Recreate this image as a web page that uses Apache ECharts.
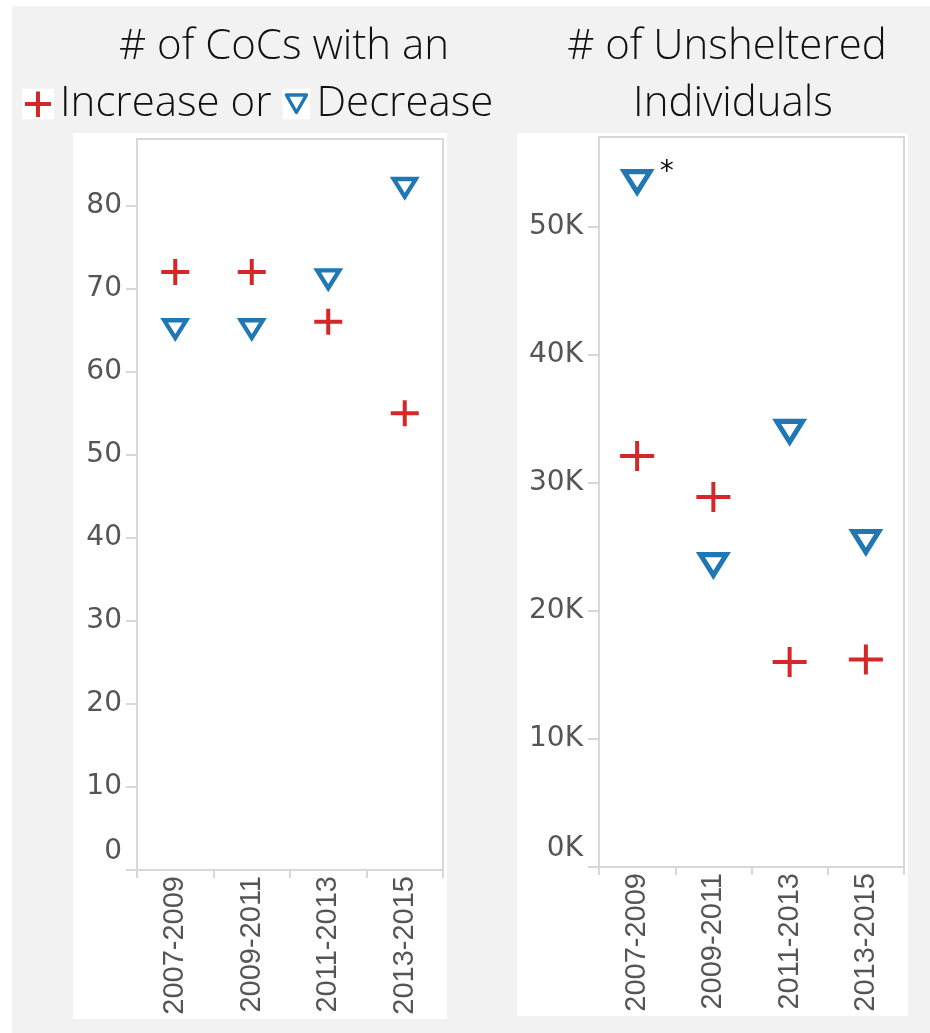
<!DOCTYPE html>
<html>
<head>
<meta charset="utf-8">
<script src="https://cdn.jsdelivr.net/npm/echarts@6/dist/echarts.min.js"></script>
<style>
html,body{margin:0;padding:0;background:#fff;}
#chart{width:930px;height:1033px;}
</style>
</head>
<body>
<div id="chart"></div>
<script>
const categories = ['2007-2009', '2009-2011', '2011-2013', '2013-2015'];
const cocIncrease = [72, 72, 66, 55];
const cocDecrease = [65, 65, 71, 82];
const unshelteredIncrease = [32100, 28900, 16000, 16200];
const unshelteredDecrease = [53400, 23500, 33900, 25300];
const cocTicks = [0, 10, 20, 30, 40, 50, 60, 70, 80];
const unshelteredTicks = [0, 10000, 20000, 30000, 40000, 50000];

const RED = '#d62728';
const BLUE = '#1f77b4';
const GRID_LINE = '#d8d8d8';
const LABEL = '#555555';
const TITLE_FONT = '"Open Sans", sans-serif';

const plusLeft = 'path://M12,0h4v11h12v4h-12v11h-4v-11h-12v-4h12z';
const plusRight = 'path://M15,0h4v13h15v4h-15v13h-4v-13h-15v-4h15z';
const triDown = 'path://M0,0L28,0L14,22Z M7.29,4L14,14.54L20.71,4Z';

const iconPlus = 'data:image/svg+xml;charset=utf-8,' + encodeURIComponent(
  '<svg xmlns="http://www.w3.org/2000/svg" width="32" height="31" viewBox="0 0 32 31">' +
  '<rect width="32" height="31" fill="#ffffff"/>' +
  '<path d="M14,3h4v10.5h11v4h-11v11h-4v-11h-11v-4h11z" fill="' + RED + '"/></svg>');
const iconTri = 'data:image/svg+xml;charset=utf-8,' + encodeURIComponent(
  '<svg xmlns="http://www.w3.org/2000/svg" width="28" height="31" viewBox="0 0 28 31">' +
  '<rect width="28" height="31" fill="#ffffff"/>' +
  '<path d="M4,6.5L24,6.5L14,24Z" fill="none" stroke="' + BLUE + '" stroke-width="3.5" stroke-linejoin="round"/></svg>');

function yLabel(fmt) {
  return {
    color: LABEL,
    fontFamily: 'DejaVu Sans',
    fontSize: 28,
    formatter: function (v) {
      const s = fmt(v);
      return v === 0 ? '{z|' + s + '}' : s;
    },
    rich: {
      z: { color: LABEL, fontFamily: 'DejaVu Sans', fontSize: 28, padding: [0, 0, 36, 0] }
    }
  };
}

const leftLabel = yLabel(v => String(v));
leftLabel.customValues = cocTicks;
leftLabel.margin = 15;
const rightLabel = yLabel(v => (v / 1000) + 'K');
rightLabel.customValues = unshelteredTicks;
rightLabel.margin = 16;

function xAxisDef(idx) {
  return {
    type: 'category',
    gridIndex: idx,
    data: categories,
    boundaryGap: true,
    axisLine: { show: true, lineStyle: { color: GRID_LINE, width: 2 } },
    axisTick: { show: true, length: 8, lineStyle: { color: GRID_LINE, width: 2 } },
    axisLabel: {
      rotate: 90,
      margin: 6,
      color: LABEL,
      fontFamily: '"Liberation Sans", Arial, sans-serif',
      fontSize: 29
    },
    splitLine: { show: false }
  };
}

const chart = echarts.init(document.getElementById('chart'), null, { renderer: 'canvas' });

chart.setOption({
  backgroundColor: '#f2f2f2',
  animation: false,
  graphic: [
    { type: 'rect', z: -10, shape: { x: 0, y: 0, width: 930, height: 6 }, style: { fill: '#fff' } },
    { type: 'rect', z: -10, shape: { x: 0, y: 0, width: 12, height: 1033 }, style: { fill: '#fff' } },
    { type: 'rect', z: -10, shape: { x: 73, y: 133, width: 374, height: 886 }, style: { fill: '#fff' } },
    { type: 'rect', z: -10, shape: { x: 517, y: 133, width: 391, height: 883 }, style: { fill: '#fff' } },
    {
      type: 'text', x: 284, y: 47,
      style: { text: '# of CoCs with an', fill: '#111', font: '300 42px ' + TITLE_FONT, textAlign: 'center', textVerticalAlign: 'middle' }
    },
    {
      type: 'text', x: 22, y: 104,
      style: {
        text: '{p| }{g| }{t|Increase or }{q| }{g| }{t|Decrease}',
        textAlign: 'left', textVerticalAlign: 'middle',
        rich: {
          p: { backgroundColor: { image: iconPlus }, width: 32, height: 31, fontSize: 10 },
          q: { backgroundColor: { image: iconTri }, width: 28, height: 31, fontSize: 10 },
          g: { width: 6, fontSize: 10 },
          t: { fill: '#111', fontSize: 42, fontWeight: 300, fontFamily: TITLE_FONT }
        }
      }
    },
    {
      type: 'text', x: 727, y: 47,
      style: { text: '# of Unsheltered', fill: '#111', font: '300 42px ' + TITLE_FONT, textAlign: 'center', textVerticalAlign: 'middle' }
    },
    {
      type: 'text', x: 733, y: 104,
      style: { text: 'Individuals', fill: '#111', font: '300 42px ' + TITLE_FONT, textAlign: 'center', textVerticalAlign: 'middle' }
    }
  ],
  grid: [
    { left: 137, top: 139, width: 306, height: 731, show: true, backgroundColor: '#fff', borderColor: GRID_LINE, borderWidth: 2 },
    { left: 599, top: 137, width: 305, height: 730, show: true, backgroundColor: '#fff', borderColor: GRID_LINE, borderWidth: 2 }
  ],
  xAxis: [xAxisDef(0), xAxisDef(1)],
  yAxis: [
    {
      type: 'value', gridIndex: 0, min: 0, max: 88, interval: 10,
      axisLine: { show: false },
      axisTick: { show: true, length: 11, customValues: cocTicks, lineStyle: { color: GRID_LINE, width: 2 } },
      axisLabel: leftLabel,
      splitLine: { show: false }
    },
    {
      type: 'value', gridIndex: 1, min: 0, max: 57000, interval: 10000,
      axisLine: { show: false },
      axisTick: { show: true, length: 11, customValues: unshelteredTicks, lineStyle: { color: GRID_LINE, width: 2 } },
      axisLabel: rightLabel,
      splitLine: { show: false }
    }
  ],
  series: [
    {
      name: 'Increase', type: 'scatter', xAxisIndex: 0, yAxisIndex: 0,
      symbol: plusLeft, symbolSize: [28, 26], itemStyle: { color: RED, opacity: 1 },
      data: cocIncrease
    },
    {
      name: 'Decrease', type: 'scatter', xAxisIndex: 0, yAxisIndex: 0,
      symbol: triDown, symbolSize: [30, 24], itemStyle: { color: BLUE, opacity: 1 },
      data: cocDecrease
    },
    {
      name: 'Increase', type: 'scatter', xAxisIndex: 1, yAxisIndex: 1,
      symbol: plusRight, symbolSize: [34, 30], itemStyle: { color: RED, opacity: 1 },
      data: unshelteredIncrease
    },
    {
      name: 'Decrease', type: 'scatter', xAxisIndex: 1, yAxisIndex: 1,
      symbol: triDown, symbolSize: [35, 28], itemStyle: { color: BLUE, opacity: 1 },
      data: unshelteredDecrease.map((v, i) => i === 0 ? {
        value: v,
        label: { show: true, formatter: '*', position: 'right', distance: 5, offset: [0, -10], color: '#111', fontSize: 28, fontFamily: 'DejaVu Sans' }
      } : v)
    }
  ]
});
</script>
</body>
</html>
